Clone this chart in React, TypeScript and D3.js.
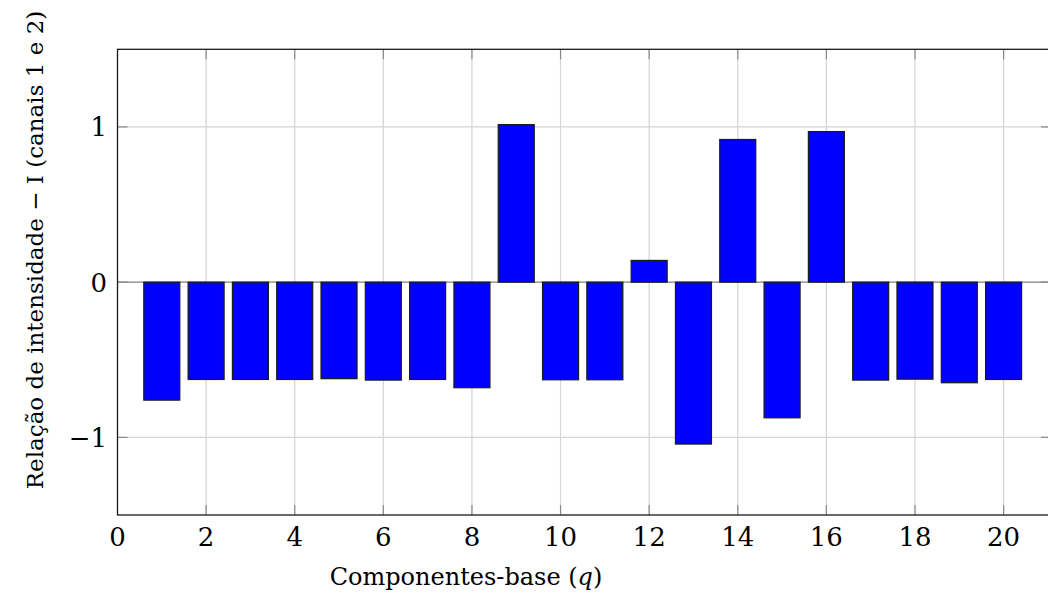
import React from "react";
import * as d3 from "d3";

const components: number[] = [1, 2, 3, 4, 5, 6, 7, 8, 9, 10, 11, 12, 13, 14, 15, 16, 17, 18, 19, 20];
const ratios: number[] = [-0.76, -0.627, -0.627, -0.627, -0.622, -0.631, -0.627, -0.68, 1.015, -0.629, -0.629, 0.14, -1.043, 0.919, -0.874, 0.97, -0.631, -0.625, -0.648, -0.627];
const xTicks: number[] = [0, 2, 4, 6, 8, 10, 12, 14, 16, 18, 20];
const yTicks: number[] = [-1, 0, 1];
const xLabel = "Componentes-base (";
const yLabel = "Relação de intensidade − I (canais 1 e 2)";

const W = 1048, H = 600;
const left = 117.5, right = 1051, top = 49.3, bottom = 515;
const FONT = "DejaVu Serif";

export default function App() {
  const x = d3.scaleLinear().domain([0, 21.07]).range([left, right]);
  const y = d3.scaleLinear().domain([-1.5, 1.5]).range([bottom, top]);
  const barW = 36;
  const fmt = (v: number) => (v < 0 ? "\u2212" + Math.abs(v) : String(v));
  return (
    <div style={{ position: "fixed", left: 0, top: 0 }}>
      <svg width={W} height={H} style={{ display: "block", background: "#fff" }}>
        {xTicks.filter(t => t > 0).map(t => (
          <line key={"gx" + t} x1={x(t)} x2={x(t)} y1={top} y2={bottom} stroke="#d4d4d4" strokeWidth={1.2} />
        ))}
        {yTicks.map(t => (
          <line key={"gy" + t} x1={left} x2={right} y1={y(t)} y2={y(t)} stroke={t === 0 ? "#808080" : "#d4d4d4"} strokeWidth={1.2} />
        ))}
        {xTicks.filter(t => t > 0).map(t => (
          <g key={"tx" + t}>
            <line x1={x(t)} x2={x(t)} y1={bottom} y2={bottom - 10} stroke="#8a8a8a" strokeWidth={1.2} />
            <line x1={x(t)} x2={x(t)} y1={top} y2={top + 10} stroke="#8a8a8a" strokeWidth={1.2} />
          </g>
        ))}
        {yTicks.map(t => (
          <g key={"ty" + t}>
            <line x1={left} x2={left + 10} y1={y(t)} y2={y(t)} stroke="#8a8a8a" strokeWidth={1.2} />
            <line x1={right} x2={right - 10} y1={y(t)} y2={y(t)} stroke="#8a8a8a" strokeWidth={1.2} />
          </g>
        ))}
        {components.map((c, i) => {
          const v = ratios[i];
          const y0 = y(Math.max(0, v));
          const y1 = y(Math.min(0, v));
          return (
            <rect key={"b" + c} x={x(c) - barW / 2} y={y0} width={barW} height={y1 - y0}
              fill="#0000ff" stroke="#1a1a1a" strokeWidth={1.2} />
          );
        })}
        <rect x={left} y={top} width={right - left} height={bottom - top} fill="none" stroke="#1a1a1a" strokeWidth={1.3} />
        {xTicks.map(t => (
          <text key={"lx" + t} x={x(t)} y={546} textAnchor="middle" fontFamily={FONT} fontSize={26} fill="#000">{t}</text>
        ))}
        {yTicks.map(t => (
          <text key={"ly" + t} x={107} y={y(t)} dy="0.36em" textAnchor="end" fontFamily={FONT} fontSize={26} fill="#000">{fmt(t)}</text>
        ))}
        <text x={466} y={585} textAnchor="middle" fontFamily={FONT} fontSize={24} fill="#000">
          {xLabel}<tspan fontStyle="italic">q</tspan>)
        </text>
        <text transform={`translate(43, 250) rotate(-90)`} textAnchor="middle" fontFamily={FONT} fontSize={23} fill="#000">
          {yLabel}
        </text>
      </svg>
    </div>
  );
}
